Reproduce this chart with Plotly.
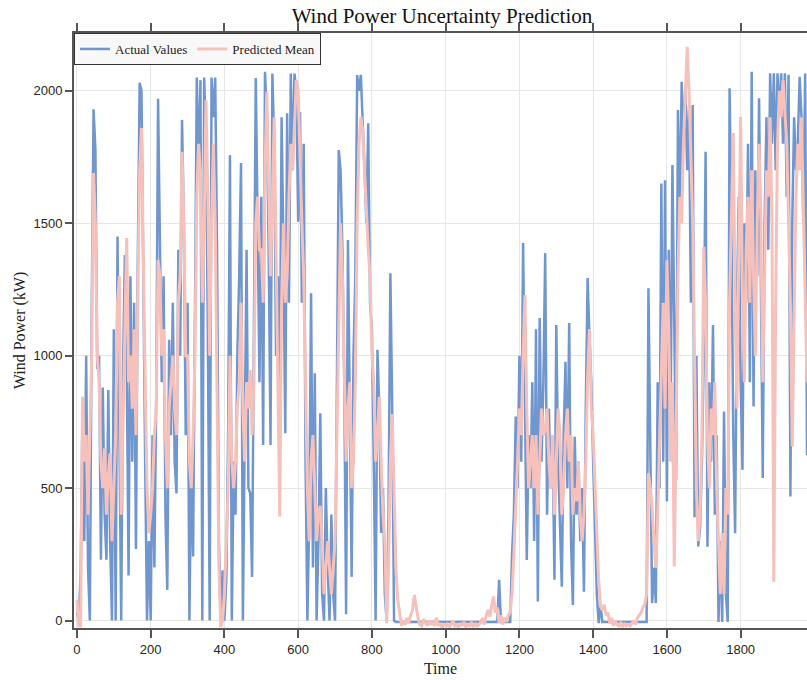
import plotly.graph_objects as go

# Time index (every 5 steps)
time = list(range(0, 2000, 5))

actual_values = [
    30, 0, 180, 770, 300, 1000, 200, 0, 1160, 1930, 1780, 950, 1000, 230, 880, 400, 230, 870, 300, 0,
    1100, 0, 1450, 600, 0, 950, 1380, 960, 170, 1300, 600, 1200, 270, 1350, 2030, 2000, 1150, 600, 0, 300,
    0, 700, 200, 833, 1970, 1500, 900, 1300, 400, 116, 1060, 700, 1200, 600, 480, 1400, 1000, 1890, 1500, 700,
    1200, 0, 600, 242, 1300, 2050, 1700, 2040, 0, 2050, 1800, 1100, 0, 2050, 1900, 2050, 1400, 300, 0, 190,
    0, 150, 700, 1757, 0, 600, 400, 1000, 1300, 1727, 0, 700, 1400, 500, 480, 165, 1200, 2048, 1500, 900,
    1600, 663, 2072, 1900, 1400, 663, 2065, 1800, 1000, 1300, 800, 1900, 1400, 707, 1915, 1200, 2065, 1700, 2065, 2000,
    1506, 1920, 1200, 1800, 600, 0, 400, 1236, 200, 934, 0, 300, 783, 100, 0, 500, 200, 0, 400, 100,
    0, 1100, 1776, 1700, 1400, 900, 24, 1437, 800, 165, 1000, 1300, 2059, 2000, 2060, 1900, 1700, 1500, 1877, 1200,
    1097, 600, 0, 1022, 800, 331, 500, 100, 0, 400, 1311, 807, 0, -5, -5, -5, -5, -5, -5, -5,
    -5, -5, -5, -5, -5, -5, -5, -5, -5, -5, -5, -5, -5, -5, -5, -5, -5, -5, -5, -5,
    -5, -5, -5, -5, -5, -5, -5, -5, -5, -5, -5, -5, -5, -5, -5, -5, -5, -5, -5, -5,
    -5, -5, -5, -5, -5, -5, -5, -5, -5, 154, -5, -5, -5, -5, -5, -5, 248, 400, 770, 500,
    1000, 600, 1425, 808, 229, 700, 500, 900, 300, 1100, 72, 1142, 600, 900, 1387, 400, 800, 500, 700, 154,
    1116, 600, 400, 128, 700, 977, 500, 1123, 300, 59, 694, 400, 600, 300, 500, 109, 800, 1293, 1072, 900,
    600, 349, 100, -10, 60, -5, -5, -5, -5, -5, -5, -5, -5, -5, -5, -5, -5, -5, -5, -5,
    -5, -5, -5, -5, -5, -5, -5, -5, -5, -5, 1254, 700, 66, 200, 66, 900, 500, 1650, 600, 1662,
    450, 1400, 720, 1720, 1100, 531, 1927, 1500, 2034, 1800, 2015, 1700, 1946, 1200, 1946, 390, 1000, 280, 350, 600,
    1000, 1770, 279, 900, 600, 1116, 400, 700, -5, 300, -5, 789, 100, -5, 2009, 1500, 700, 330, 1200, 1600,
    900, 569, 1500, 1200, 1800, 900, 2072, 808, 1700, 1300, 1972, 1200, 538, 1500, 1900, 1400, 2066, 1800, 2066, 1700,
    2066, 1900, 2066, 1800, 2066, 1600, 2060, 468, 1500, 1900, 1700, 1800, 2053, 1900, 1500, 2065, 625, 1500, 1800, 1600,
]

predicted_mean = [
    78, -20, -20, 845, 600, 700, 400, 700, 996, 1689, 1500, 1000, 900, 600, 500, 650, 400, 550, 632, 300,
    500, 700, 1200, 1300, 400, 700, 1100, 1444, 900, 1000, 800, 1100, 700, 1200, 1700, 1859, 1300, 900, 505, 330,
    400, 500, 700, 800, 1361, 1300, 1000, 1100, 700, 500, 800, 900, 1000, 800, 700, 1200, 1300, 1770, 1500, 1000,
    1000, 600, 500, 700, 1000, 1600, 1800, 1700, 1200, 1500, 1965, 1600, 1000, 1500, 1800, 1500, 900, 200, -25, 0,
    100, 300, 500, 1000, 600, 500, 600, 800, 900, 1200, 800, 600, 900, 800, 946, 700, 900, 1500, 1600, 1400,
    1400, 1200, 1700, 1996, 1700, 1300, 1600, 1900, 1400, 900, 393, 1200, 1500, 1200, 1300, 1600, 1800, 1700, 1900, 2040,
    2000, 1700, 1500, 1300, 900, 500, 300, 600, 700, 500, 300, 400, 433, 300, 100, 200, 300, 200, 100, 200,
    300, 700, 1200, 1500, 1300, 1000, 600, 800, 900, 500, 600, 900, 1500, 1800, 1902, 1850, 1700, 1500, 1400, 1300,
    1000, 900, 600, 700, 845, 600, 400, 300, -10, 200, 600, 780, 500, 200, 80, 30, -20, 0, -15, 10,
    -10, 20, 40, 97, 50, 10, -15, -20, 5, -10, -20, 0, -15, -5, -20, 10, -20, -10, -25, -15,
    -20, -10, -25, -15, 0, -20, -15, -25, -10, -20, -5, -25, -15, -20, -5, -25, -10, -20, -15, -5,
    10, -15, 20, 40, 15, 60, 91, 30, 50, -10, 20, -15, 10, -5, 20, 30, 100, 250, 400, 600,
    800, 700, 1000, 1229, 800, 500, 600, 700, 500, 700, 400, 600, 800, 700, 720, 800, 600, 500, 700, 400,
    600, 800, 700, 400, 500, 700, 800, 600, 700, 400, 500, 450, 600, 400, 300, 400, 600, 921, 1100, 800,
    700, 500, 330, 150, 53, 40, 60, 20, 30, -10, 10, -20, 0, -15, -20, -5, -25, -10, -20, -15,
    -20, -10, 0, -15, 10, 20, 30, 50, 60, 100, 556, 500, 420, 300, 200, 400, 700, 1000, 1200, 800,
    1360, 1100, 600, 900, 204, 700, 1300, 1600, 1500, 1800, 2000, 2166, 2000, 1789, 1500, 1000, 500, 300, 400, 700,
    1411, 1200, 700, 500, 800, 700, 900, 500, 300, 100, 330, 100, 500, 400, 1200, 1600, 1840, 1200, 800, 1400,
    1902, 1200, 900, 1400, 1600, 1200, 1700, 1300, 1000, 1500, 1800, 1500, 900, 1300, 1700, 1600, 1900, 1500, 147, 1200,
    1800, 2000, 1900, 2040, 1900, 1800, 1500, 1200, 657, 1200, 1600, 1800, 1700, 1900, 1600, 1200, 900, 1100, 1400, 1200,
]

x_ticks = [0, 200, 400, 600, 800, 1000, 1200, 1400, 1600, 1800]
y_ticks = [0, 500, 1000, 1500, 2000]

SERIF = "Liberation Serif, Times New Roman, serif"
SANS = "Liberation Sans, Arial, sans-serif"

fig = go.Figure()
fig.add_trace(go.Scatter(x=time, y=actual_values, mode="lines", name="Actual Values",
                         line=dict(color="#7096d0", width=2.5)))
fig.add_trace(go.Scatter(x=time, y=predicted_mean, mode="lines", name="Predicted Mean",
                         line=dict(color="#f6c0bb", width=3)))

fig.update_layout(
    width=807, height=680,
    margin=dict(l=74, r=0, t=33, b=52),
    paper_bgcolor="white", plot_bgcolor="white",
    title=dict(text="Wind Power Uncertainty Prediction", x=0.502, xref="paper", xanchor="center",
               y=1 - 16 / 680, yref="container", yanchor="middle",
               font=dict(family=SERIF, size=21, color="#111111")),
    legend=dict(orientation="h", x=0, y=1, xanchor="left", yanchor="top",
                bgcolor="#f8f8f8", bordercolor="#333333", borderwidth=1,
                font=dict(family=SERIF, size=13, color="#222222"),
                itemwidth=30, tracegroupgap=0),
    xaxis=dict(range=[-8, 1980], tickvals=x_ticks, ticks="outside", ticklen=8, tickwidth=1.5,
               tickcolor="#555555", showline=True, linecolor="#555555", linewidth=2, mirror="ticks",
               showgrid=True, gridcolor="#e6e6e6", gridwidth=1, zeroline=False,
               tickfont=dict(family=SANS, size=13, color="#262626"),
               title=dict(text="Time", font=dict(family=SERIF, size=16, color="#222222"), standoff=7)),
    yaxis=dict(range=[-28, 2218], tickvals=y_ticks, ticks="outside", ticklen=7, tickwidth=1.5,
               tickcolor="#555555", showline=True, linecolor="#555555", linewidth=2, mirror=False,
               showgrid=True, gridcolor="#e6e6e6", gridwidth=1, zeroline=False,
               tickfont=dict(family=SANS, size=13, color="#262626"),
               title=dict(text="Wind Power (kW)", font=dict(family=SERIF, size=16, color="#222222"), standoff=4)),
)

fig.write_html("out.html")
